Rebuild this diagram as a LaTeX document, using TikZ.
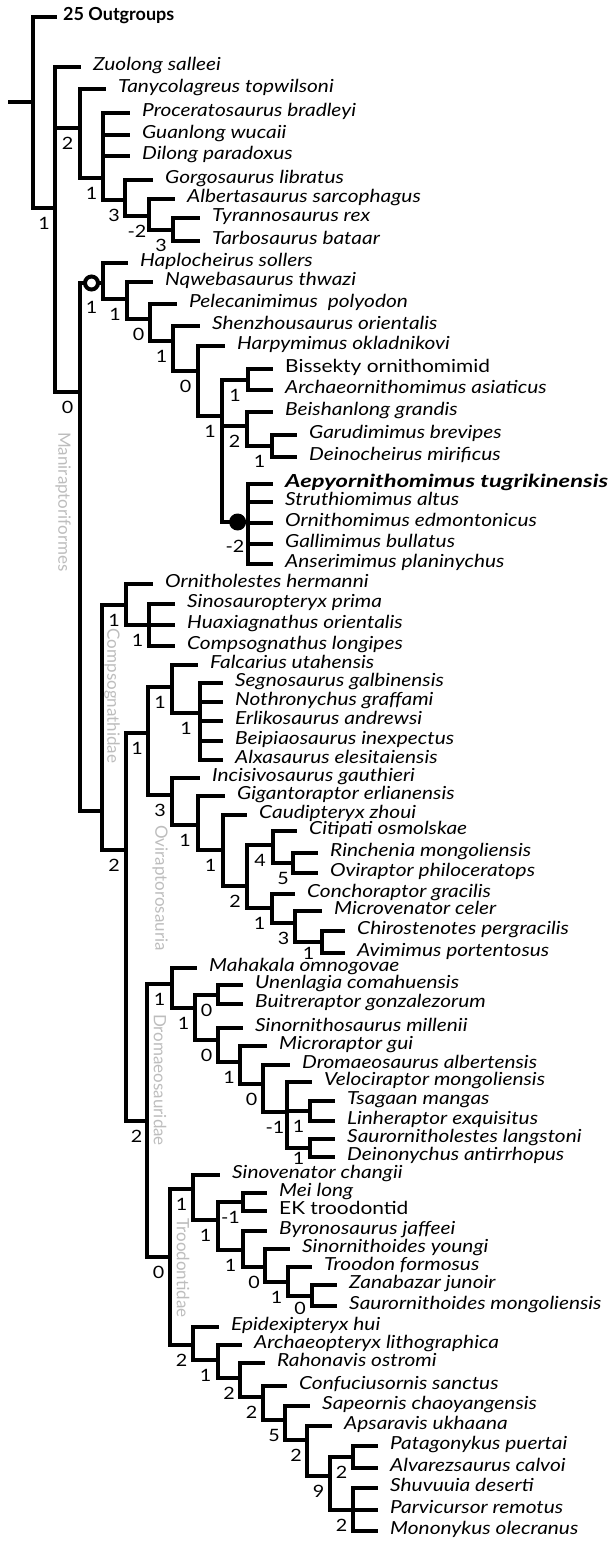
\documentclass[tikz,border=0pt]{standalone}
\usepackage{fontspec}
\setmainfont{Lato}[FakeStretch=1.16]
\newfontfamily\plainlato{Lato}
\newfontfamily\widelato{Lato}[FakeStretch=1.32]
\usetikzlibrary{positioning,calc}
\definecolor{cladegrey}{gray}{0.74}
\newcommand{\taxfont}{\fontsize{18}{18}\selectfont\itshape}
\newcommand{\taxupfont}{\fontsize{18}{18}\selectfont\upshape}
\newcommand{\suppfont}{\fontsize{17}{17}\selectfont\upshape}
\tikzset{
  branch/.style={line width=4.5pt},
  leaf/.style={anchor=west, inner xsep=12pt, inner ysep=0pt, text height=1.42ex, text depth=0pt, font=\taxfont},
  supp/.style={anchor=north, inner sep=0pt, yshift=-7pt, font=\suppfont},
  suppdeep/.style={anchor=north, inner sep=0pt, yshift=-16pt, font=\suppfont},
  clade/.style={rotate=-90, inner sep=0pt, text=cladegrey, font=\plainlato\suppfont},
  ringmark/.style={circle, draw=black, line width=4pt, fill=white, minimum size=13pt, inner sep=0pt},
  dotmark/.style={circle, fill=black, minimum size=17pt, inner sep=0pt}
}

\begin{document}
\begin{tikzpicture}[x=1pt,y=-1pt]
    \useasboundingbox (0,0) rectangle (611,1543);
    %Root
    \coordinate (base) at (8,102);
    \coordinate (root) at (33,102);
    \node[leaf,inner xsep=6pt,font=\plainlato\taxupfont\bfseries] (outg) at (57,17) {25 Outgroups};
    \coordinate (coel) at (55,208);
    %Tyrannosauroidea
    \coordinate (tyra) at (80,128);
    \coordinate (proc) at (103,178);
    \coordinate (gorg) at (125,200);
    \coordinate (albe) at (149,216);
    \coordinate (tyrn) at (173,230);
    \node[leaf] (zuo) at (81,67) {Zuolong salleei};
    \node[leaf] (tan) at (106,89) {Tanycolagreus topwilsoni};
    \node[leaf] (pro) at (130,113) {Proceratosaurus bradleyi};
    \node[leaf] (gua) at (130,135) {Guanlong wucaii};
    \node[leaf] (dil) at (130,156) {Dilong paradoxus};
    \node[leaf] (gor) at (153,180) {Gorgosaurus libratus};
    \node[leaf] (alb) at (175,199) {Albertasaurus sarcophagus};
    \node[leaf] (tyr) at (200,218) {Tyrannosaurus rex};
    \node[leaf] (tar) at (200,241) {Tarbosaurus bataar};
    %Ornithomimosauria
    \coordinate (mrf) at (80,392);
    \coordinate (orn) at (103,283);
    \coordinate (nqw) at (127,299);
    \coordinate (pel) at (150,319);
    \coordinate (she) at (173,341);
    \coordinate (har) at (198,371);
    \coordinate (omm) at (222,416);
    \coordinate (bis) at (248,380);
    \coordinate (bei) at (247,426);
    \coordinate (gar) at (272,446);
    \coordinate (aep) at (248,522);
    \node[leaf] (hap) at (128,263) {Haplocheirus sollers};
    \node[leaf] (nqe) at (153,282) {Nqwebasaurus thwazi};
    \node[leaf] (pec) at (177,304) {Pelecanimimus\ \ polyodon};
    \node[leaf] (shz) at (200,326) {Shenzhousaurus orientalis};
    \node[leaf] (hpy) at (225,346) {Harpymimus okladnikovi};
    \node[leaf,font=\taxupfont] (bsk) at (273,369) {Bissekty ornithomimid};
    \node[leaf] (arm) at (273,390) {Archaeornithomimus asiaticus};
    \node[leaf] (bsh) at (273,412) {Beishanlong grandis};
    \node[leaf] (gad) at (297,435) {Garudimimus brevipes};
    \node[leaf] (dei) at (297,457) {Deinocheirus mirificus};
    \node[leaf,font=\widelato\taxfont\bfseries] (aet) at (273,484) {Aepyornithomimus tugrikinensis};
    \node[leaf] (str) at (273,502) {Struthiomimus altus};
    \node[leaf] (orm) at (273,523) {Ornithomimus edmontonicus};
    \node[leaf] (gal) at (273,544) {Gallimimus bullatus};
    \node[leaf] (ans) at (273,564) {Anserimimus planinychus};
    %Compsognathidae
    \coordinate (mra) at (102,811);
    \coordinate (cmp) at (126,605);
    \coordinate (sin) at (149,625);
    \node[leaf] (orh) at (153,584) {Ornitholestes hermanni};
    \node[leaf] (sip) at (175,604) {Sinosauropteryx prima};
    \node[leaf] (hua) at (175,625) {Huaxiagnathus orientalis};
    \node[leaf] (cpl) at (175,646) {Compsognathus longipes};
    %Therizinosauria and Oviraptorosauria
    \coordinate (pen) at (126,850);
    \coordinate (thov) at (148,733);
    \coordinate (fal) at (172,687);
    \coordinate (seg) at (200,713);
    \coordinate (ovi) at (172,795);
    \coordinate (gig) at (198,825);
    \coordinate (cau) at (223,850);
    \coordinate (cae) at (247,886);
    \coordinate (cit) at (273,845);
    \coordinate (rin) at (293,863);
    \coordinate (con) at (272,908);
    \coordinate (mic) at (295,923);
    \coordinate (chi) at (322,942);
    \node[leaf] (fau) at (198,665) {Falcarius utahensis};
    \node[leaf] (sga) at (223,683) {Segnosaurus galbinensis};
    \node[leaf] (ngr) at (223,702) {Nothronychus graffami};
    \node[leaf] (ean) at (223,721) {Erlikosaurus andrewsi};
    \node[leaf] (bin) at (223,741) {Beipiaosaurus inexpectus};
    \node[leaf] (ael) at (223,760) {Alxasaurus elesitaiensis};
    \node[leaf] (ing) at (200,778) {Incisivosaurus gauthieri};
    \node[leaf] (ger) at (225,796) {Gigantoraptor erlianensis};
    \node[leaf] (czh) at (247,815) {Caudipteryx zhoui};
    \node[leaf] (cos) at (297,831) {Citipati osmolskae};
    \node[leaf] (rmo) at (318,853) {Rinchenia mongoliensis};
    \node[leaf] (oph) at (318,873) {Oviraptor philoceratops};
    \node[leaf] (cgr) at (295,894) {Conchoraptor gracilis};
    \node[leaf] (mce) at (322,911) {Microvenator celer};
    \node[leaf] (cpe) at (345,931) {Chirostenotes pergracilis};
    \node[leaf] (apo) at (345,953) {Avimimus portentosus};
    %Dromaeosauridae
    \coordinate (par) at (147,1121);
    \coordinate (dro) at (172,984);
    \coordinate (une0) at (195,1008);
    \coordinate (une) at (218,995);
    \coordinate (snr) at (218,1040);
    \coordinate (mcr) at (240,1062);
    \coordinate (drs) at (263,1084);
    \coordinate (vel) at (287,1112);
    \coordinate (tsa) at (310,1111);
    \coordinate (sau) at (310,1148);
    \node[leaf] (mom) at (197,968) {Mahakala omnogovae};
    \node[leaf] (uco) at (243,985) {Unenlagia comahuensis};
    \node[leaf] (bgo) at (243,1004) {Buitreraptor gonzalezorum};
    \node[leaf] (smi) at (243,1028) {Sinornithosaurus millenii};
    \node[leaf] (mgu) at (267,1046) {Microraptor gui};
    \node[leaf] (dal) at (290,1065) {Dromaeosaurus albertensis};
    \node[leaf] (vmo) at (312,1082) {Velociraptor mongoliensis};
    \node[leaf] (tma) at (335,1101) {Tsagaan mangas};
    \node[leaf] (lex) at (335,1121) {Linheraptor exquisitus};
    \node[leaf] (sla) at (335,1139) {Saurornitholestes langstoni};
    \node[leaf] (dan) at (335,1157) {Deinonychus antirrhopus};
    %Troodontidae
    \coordinate (eum) at (170,1257);
    \coordinate (tro) at (193,1189);
    \coordinate (tr2) at (218,1220);
    \coordinate (mei) at (243,1202);
    \coordinate (byr) at (243,1250);
    \coordinate (snd) at (265,1267);
    \coordinate (trd) at (288,1282);
    \coordinate (zan) at (312,1296);
    \node[leaf] (svc) at (220,1175) {Sinovenator changii};
    \node[leaf] (mlo) at (267,1193) {Mei long};
    \node[leaf,font=\taxupfont] (ekt) at (267,1211) {EK troodontid};
    \node[leaf] (bja) at (267,1231) {Byronosaurus jaffeei};
    \node[leaf] (syo) at (290,1249) {Sinornithoides youngi};
    \node[leaf] (tfo) at (312,1267) {Troodon formosus};
    \node[leaf] (zju) at (337,1285) {Zanabazar junoir};
    \node[leaf] (smo) at (337,1306) {Saurornithoides mongoliensis};
    %Avialae
    \coordinate (avi) at (193,1345);
    \coordinate (arc) at (218,1360);
    \coordinate (rah) at (240,1378);
    \coordinate (cfc) at (263,1397);
    \coordinate (sap) at (285,1420);
    \coordinate (aps) at (307,1440);
    \coordinate (alv) at (330,1476);
    \coordinate (pat) at (353,1457);
    \coordinate (shu) at (353,1510);
    \node[leaf] (ehu) at (219,1327) {Epidexipteryx hui};
    \node[leaf] (ali) at (242,1345) {Archaeopteryx lithographica};
    \node[leaf] (ros) at (265,1363) {Rahonavis ostromi};
    \node[leaf] (csa) at (287,1386) {Confuciusornis sanctus};
    \node[leaf] (sac) at (310,1406) {Sapeornis chaoyangensis};
    \node[leaf] (auk) at (332,1426) {Apsaravis ukhaana};
    \node[leaf] (ppu) at (378,1446) {Patagonykus puertai};
    \node[leaf] (aca) at (378,1468) {Alvarezsaurus calvoi};
    \node[leaf] (sde) at (378,1488) {Shuvuuia deserti};
    \node[leaf] (pre) at (378,1510) {Parvicursor remotus};
    \node[leaf] (mol) at (378,1531) {Mononykus olecranus};

    %Branches
    \draw[branch] (base) -- (root);
    \draw[branch] (root) |- (outg) (root) |- (coel) node[supp,pos=.75] (s-coel) {1};
    \draw[branch] (coel) |- (zuo) (coel) |- (tyra) node[supp,pos=.75] (s-tyra) {2}
        (coel) |- (mrf) node[supp,pos=.75] (s-mrf) {0};
    \draw[branch] (tyra) |- (tan) (tyra) |- (proc) node[supp,pos=.75] (s-proc) {1};
    \draw[branch] (proc) |- (pro) (proc) |- (gua) (proc) |- (dil)
        (proc) |- (gorg) node[supp,pos=.75] (s-gorg) {3};
    \draw[branch] (gorg) |- (gor) (gorg) |- (albe) node[supp,pos=.75] (s-albe) {-2};
    \draw[branch] (albe) |- (alb) (albe) |- (tyrn) node[supp,pos=.75] (s-tyrn) {3};
    \draw[branch] (tyrn) |- (tyr) (tyrn) |- (tar);
    %Ornithomimosauria
    \draw[branch] (mrf) |- (orn) node[ringmark,pos=.75] (ring) {} node[suppdeep,pos=.75] (s-orn) {1}
        (mrf) |- (mra);
    \draw[branch] (orn) |- (hap) (orn) |- (nqw) node[supp,pos=.75] (s-nqw) {1};
    \draw[branch] (nqw) |- (nqe) (nqw) |- (pel) node[supp,pos=.75] (s-pel) {0};
    \draw[branch] (pel) |- (pec) (pel) |- (she) node[supp,pos=.75] (s-she) {1};
    \draw[branch] (she) |- (shz) (she) |- (har) node[supp,pos=.75] (s-har) {0};
    \draw[branch] (har) |- (hpy) (har) |- (omm) node[supp,pos=.75] (s-omm) {1};
    \draw[branch] (omm) |- (bis) node[supp,pos=.75] (s-bis) {1}
        (omm) |- (bei) node[supp,pos=.75] (s-bei) {2}
        (omm) |- (aep) node[dotmark,pos=.8] (dot) {} node[suppdeep,pos=.75] (s-aep) {-2};
    \draw[branch] (bis) |- (bsk) (bis) |- (arm);
    \draw[branch] (bei) |- (bsh) (bei) |- (gar) node[supp,pos=.75] (s-gar) {1};
    \draw[branch] (gar) |- (gad) (gar) |- (dei);
    \draw[branch] (aep) |- (aet) (aep) |- (str) (aep) |- (orm) (aep) |- (gal) (aep) |- (ans);
    %Compsognathidae
    \draw[branch] (mra) |- (cmp) node[supp,pos=.75] (s-cmp) {1}
        (mra) |- (pen) node[supp,pos=.75] (s-pen) {2};
    \draw[branch] (cmp) |- (orh) (cmp) |- (sin) node[supp,pos=.75] (s-sin) {1};
    \draw[branch] (sin) |- (sip) (sin) |- (hua) (sin) |- (cpl);
    %Therizinosauria and Oviraptorosauria
    \draw[branch] (pen) |- (thov) node[supp,pos=.75] (s-thov) {1}
        (pen) |- (par) node[supp,pos=.75] (s-par) {2};
    \draw[branch] (thov) |- (fal) node[supp,pos=.75] (s-fal) {1}
        (thov) |- (ovi) node[supp,pos=.75] (s-ovi) {3};
    \draw[branch] (fal) |- (fau) (fal) |- (seg) node[supp,pos=.75] (s-seg) {1};
    \draw[branch] (seg) |- (sga) (seg) |- (ngr) (seg) |- (ean) (seg) |- (bin) (seg) |- (ael);
    \draw[branch] (ovi) |- (ing) (ovi) |- (gig) node[supp,pos=.75] (s-gig) {1};
    \draw[branch] (gig) |- (ger) (gig) |- (cau) node[supp,pos=.75] (s-cau) {1};
    \draw[branch] (cau) |- (czh) (cau) |- (cae) node[supp,pos=.75] (s-cae) {2};
    \draw[branch] (cae) |- (cit) node[supp,pos=.75] (s-cit) {4}
        (cae) |- (con) node[supp,pos=.75] (s-con) {1};
    \draw[branch] (cit) |- (cos) (cit) |- (rin) node[supp,pos=.75] (s-rin) {5};
    \draw[branch] (rin) |- (rmo) (rin) |- (oph);
    \draw[branch] (con) |- (cgr) (con) |- (mic) node[supp,pos=.75] (s-mic) {3};
    \draw[branch] (mic) |- (mce) (mic) |- (chi) node[supp,pos=.75,yshift=4pt] (s-chi) {1};
    \draw[branch] (chi) |- (cpe) (chi) |- (apo);
    %Dromaeosauridae
    \draw[branch] (par) |- (dro) node[supp,pos=.75] (s-dro) {1}
        (par) |- (eum) node[supp,pos=.75] (s-eum) {0};
    \draw[branch] (dro) |- (mom) (dro) |- (une0) node[supp,pos=.75] (s-une0) {1};
    \draw[branch] (une0) |- (une) node[supp,pos=.75] (s-une) {0}
        (une0) |- (snr) node[supp,pos=.75] (s-snr) {0};
    \draw[branch] (une) |- (uco) (une) |- (bgo);
    \draw[branch] (snr) |- (smi) (snr) |- (mcr) node[supp,pos=.75] (s-mcr) {1};
    \draw[branch] (mcr) |- (mgu) (mcr) |- (drs) node[supp,pos=.75] (s-drs) {0};
    \draw[branch] (drs) |- (dal) (drs) |- (vel) node[supp,pos=.75] (s-vel) {-1};
    \draw[branch] (vel) |- (vmo) (vel) |- (tsa) node[supp,pos=.75] (s-tsa) {1}
        (vel) |- (sau) node[supp,pos=.75,yshift=5pt] (s-sau) {1};
    \draw[branch] (tsa) |- (tma) (tsa) |- (lex);
    \draw[branch] (sau) |- (sla) (sau) |- (dan);
    %Troodontidae
    \draw[branch] (eum) |- (tro) node[supp,pos=.75] (s-tro) {1}
        (eum) |- (avi) node[supp,pos=.75] (s-avi) {2};
    \draw[branch] (tro) |- (svc) (tro) |- (tr2) node[supp,pos=.75] (s-tr2) {1};
    \draw[branch] (tr2) |- (mei) node[supp,pos=.75] (s-mei) {-1}
        (tr2) |- (byr) node[supp,pos=.75] (s-byr) {1};
    \draw[branch] (mei) |- (mlo) (mei) |- (ekt);
    \draw[branch] (byr) |- (bja) (byr) |- (snd) node[supp,pos=.75] (s-snd) {0};
    \draw[branch] (snd) |- (syo) (snd) |- (trd) node[supp,pos=.75] (s-trd) {1};
    \draw[branch] (trd) |- (tfo) (trd) |- (zan) node[supp,pos=.75,yshift=3pt] (s-zan) {0};
    \draw[branch] (zan) |- (zju) (zan) |- (smo);
    %Avialae
    \draw[branch] (avi) |- (ehu) (avi) |- (arc) node[supp,pos=.75] (s-arc) {1};
    \draw[branch] (arc) |- (ali) (arc) |- (rah) node[supp,pos=.75] (s-rah) {2};
    \draw[branch] (rah) |- (ros) (rah) |- (cfc) node[supp,pos=.75] (s-cfc) {2};
    \draw[branch] (cfc) |- (csa) (cfc) |- (sap) node[supp,pos=.75] (s-sap) {5};
    \draw[branch] (sap) |- (sac) (sap) |- (aps) node[supp,pos=.75] (s-aps) {2};
    \draw[branch] (aps) |- (auk) (aps) |- (alv) node[supp,pos=.75] (s-alv) {9};
    \draw[branch] (alv) |- (pat) node[supp,pos=.75] (s-pat) {2}
        (alv) |- (shu) node[supp,pos=.75] (s-shu) {2};
    \draw[branch] (pat) |- (ppu) (pat) |- (aca);
    \draw[branch] (shu) |- (sde) (shu) |- (pre) (shu) |- (mol);

    %Clade names
    \node[clade] (n-mrf) at (63,502) {Maniraptoriformes};
    \node[clade] (n-cmp) at (112,696) {Compsognathidae};
    \node[clade] (n-ovi) at (160,888) {Oviraptorosauria};
    \node[clade] (n-dro) at (160,1080) {Dromaeosauridae};
    \node[clade] (n-tro) at (183,1268) {Troodontidae};
\end{tikzpicture}
\end{document}
